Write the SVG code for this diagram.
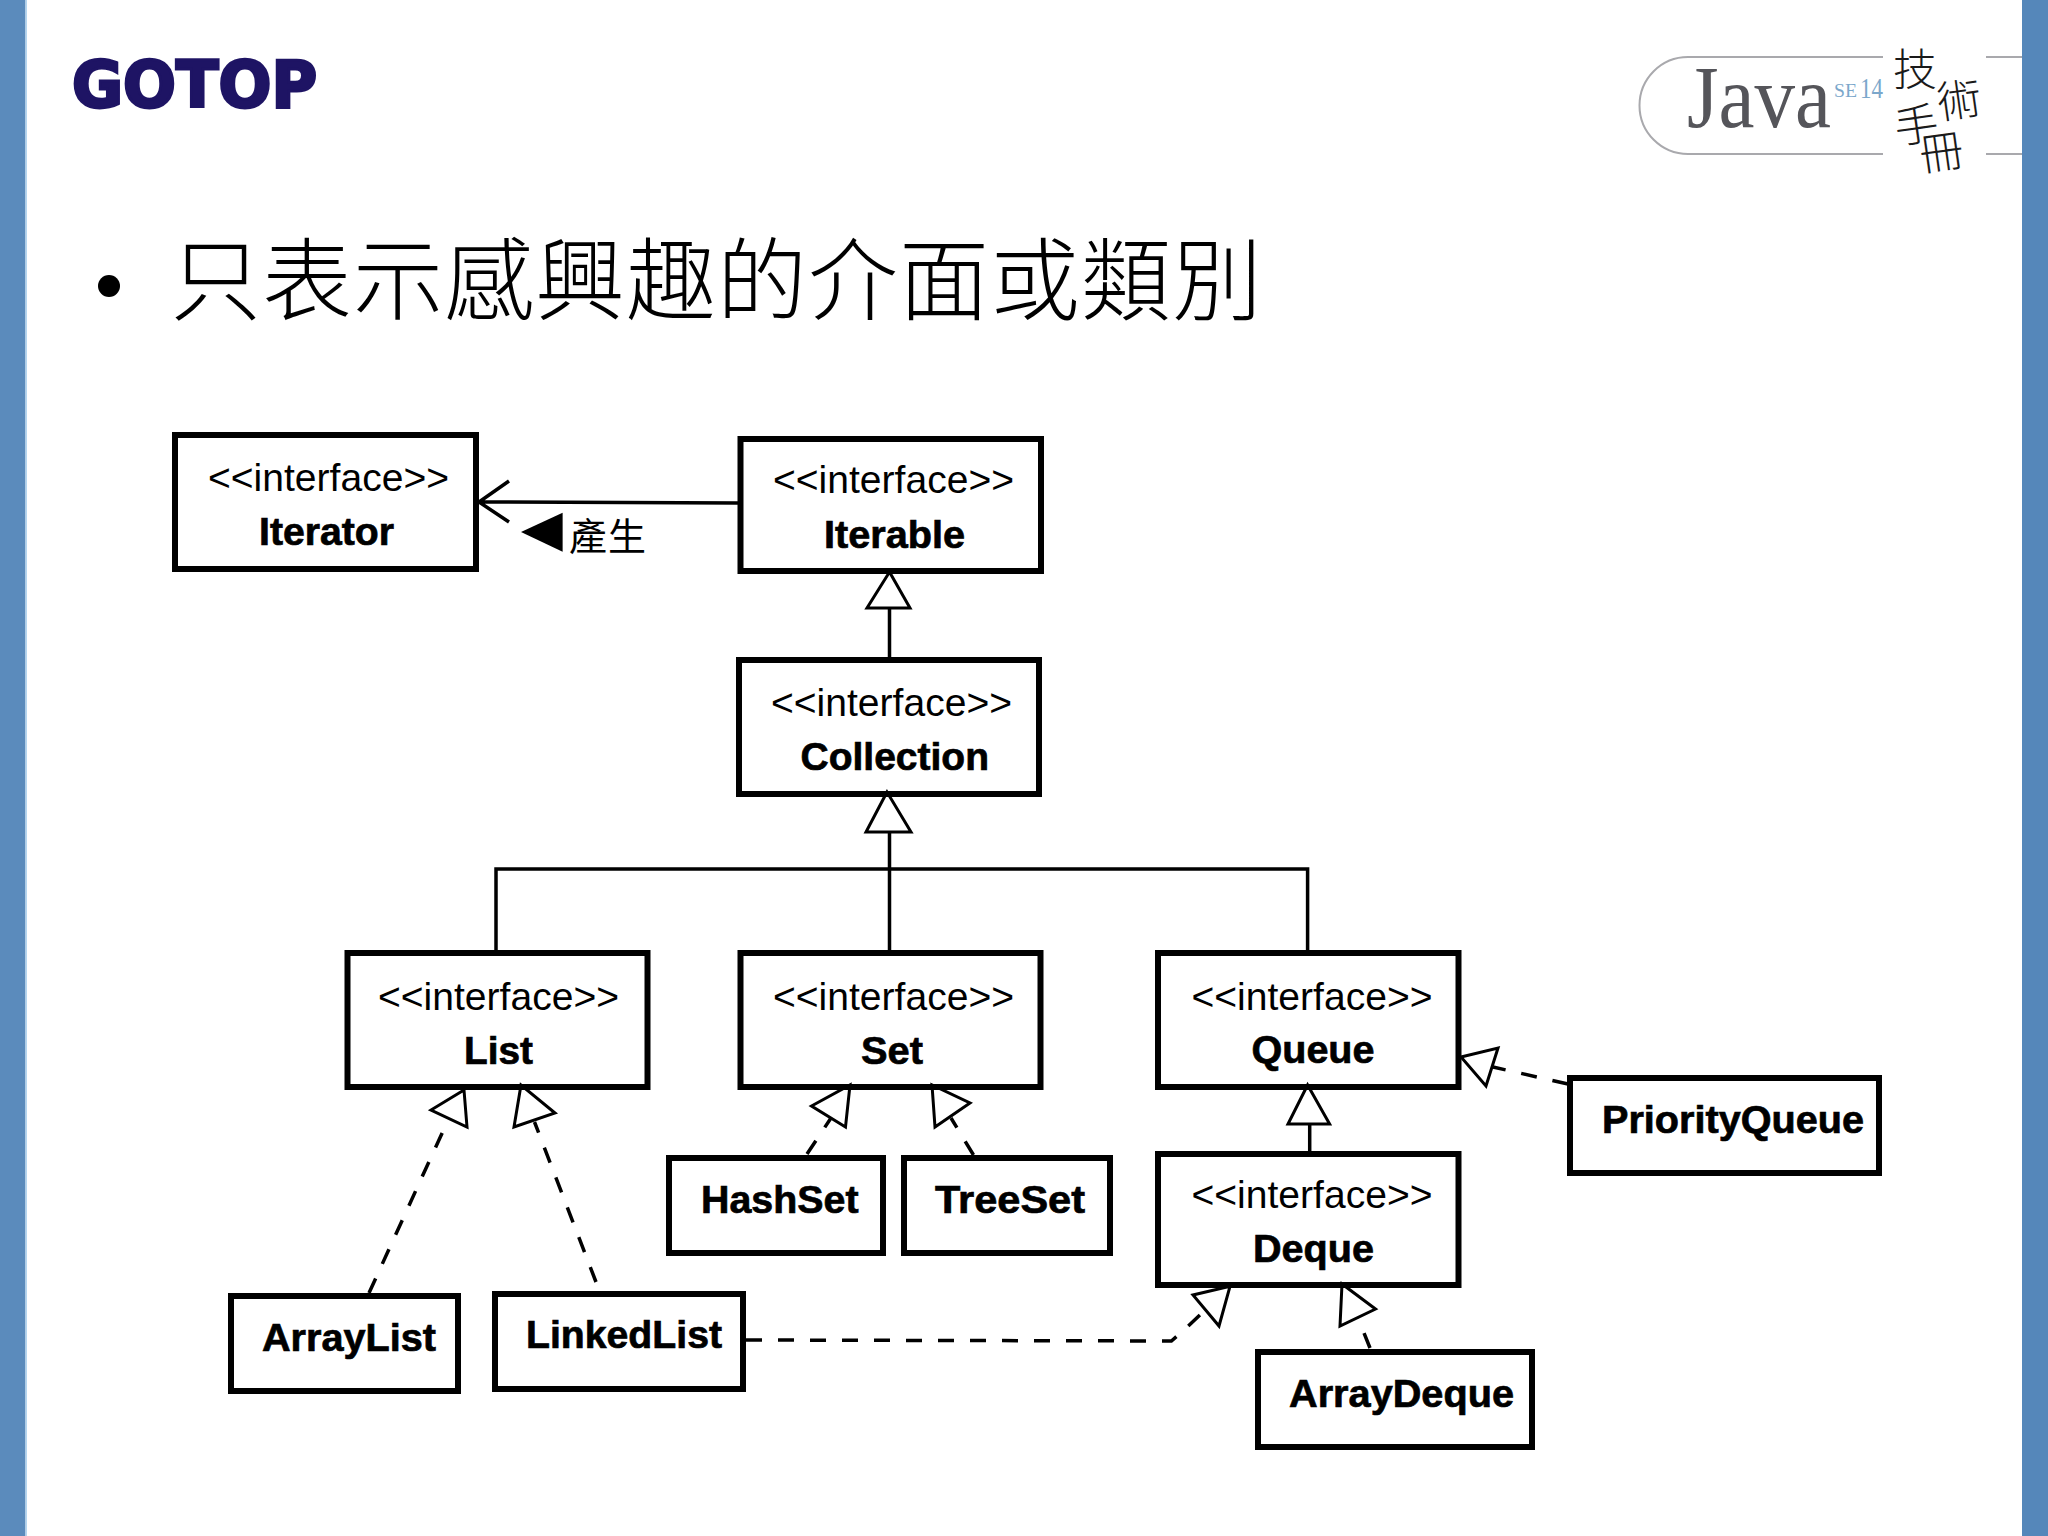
<svg xmlns="http://www.w3.org/2000/svg" width="2048" height="1536" viewBox="0 0 2048 1536">
<style>
.box{fill:none;stroke:#000;stroke-width:6}
.st{font:39px "Liberation Sans",sans-serif;fill:#000}
.nm{font:bold 39px "Liberation Sans",sans-serif;fill:#000;stroke:#000;stroke-width:.7}
.ln{fill:none;stroke:#000;stroke-width:3.5}
.dash{fill:none;stroke:#000;stroke-width:3.5;stroke-dasharray:16 16}
.head{fill:#fff;stroke:#000;stroke-width:3;stroke-linejoin:miter;stroke-miterlimit:2.5}
.cjk{font-family:"Noto Sans CJK TC","Liberation Sans",sans-serif}
</style>
<rect width="2048" height="1536" fill="#fff"/>
<g id="page">
<rect x="0" y="0" width="25.5" height="1536" fill="#5b8bbc"/>
<rect x="25.5" y="0" width="1.5" height="1536" fill="#b5d6f0"/>
<rect x="2022" y="0" width="26" height="1536" fill="#5587ba"/>
<text x="72" y="107" font-family="'DejaVu Sans',sans-serif" font-weight="700" font-size="64" fill="#1e1464" stroke="#1e1464" stroke-width="3" textLength="245" lengthAdjust="spacingAndGlyphs">GOTOP</text>
<path d="M1883 57H1688A48.5 48.5 0 0 0 1688 154H1883M1986 57H2022M1986 154H2022" fill="none" stroke="#a9a9ad" stroke-width="2"/>
<text x="1687" y="127" font-family="'Liberation Serif',serif" font-size="88" fill="#55555a" textLength="144" lengthAdjust="spacingAndGlyphs">Java</text>
<text x="1834" y="97" font-family="'Liberation Serif',serif" font-size="18" fill="#7ba7cb" textLength="23" lengthAdjust="spacingAndGlyphs">SE</text>
<text x="1860" y="98" font-family="'Liberation Serif',serif" font-size="29" fill="#7ba7cb" textLength="23" lengthAdjust="spacingAndGlyphs">14</text>
<g class="cjk" font-weight="300" fill="#1a1a1a" font-size="44">
<text x="1893" y="86">技</text>
<text x="1937" y="116" transform="rotate(-8 1960 98)">術</text>
<text x="1894" y="141" transform="rotate(-8 1917 122)">手</text>
<text x="1919" y="168" transform="rotate(-8 1942 150)">冊</text>
</g>
<ellipse cx="109" cy="286" rx="11" ry="11" fill="#000"/>
<text x="171" y="313" class="cjk" font-size="90" font-weight="300" fill="#000" textLength="1091" lengthAdjust="spacing">只表示感興趣的介面或類別</text>
</g>
<g id="connectors">
<path class="ln" d="M738 503L479 502M509 481L479 502L509 522"/>
<polygon points="521,532 562.6,512.7 562.6,551.7" fill="#000"/>
<path class="ln" d="M889.5 608V657M889.5 832V950M496 950V869H1307.6V950"/>
<polygon class="head" points="889.5,572 867,608 910,608"/>
<polygon class="head" points="887,792 866,832 911,832"/>
<path class="dash" d="M369 1293L449 1118"/>
<polygon class="head" points="464,1090 467,1127 431,1110"/>
<path class="dash" d="M596 1282L534.5 1122"/>
<polygon class="head" points="521,1085 514,1127 555,1113"/>
<path class="dash" d="M807 1154L831 1118"/>
<polygon class="head" points="850,1085 845.5,1127 811.5,1106"/>
<path class="dash" d="M973.5 1155L951 1118"/>
<polygon class="head" points="932,1085 935,1127 970,1103"/>
<path class="dash" d="M1568 1084L1493 1067"/>
<polygon class="head" points="1461,1057 1498,1048 1486,1086"/>
<path class="ln" d="M1309.7 1124V1151"/>
<polygon class="head" points="1307.6,1085 1288,1124 1329.6,1124"/>
<path class="dash" d="M746 1340L1171.4 1341L1183 1331L1204.6 1310.5"/>
<polygon class="head" points="1230,1286.4 1219,1326 1193,1295"/>
<path class="dash" d="M1370 1348L1357.6 1317"/>
<polygon class="head" points="1342,1284 1340,1326 1375.5,1309"/>
</g>
<g id="label-produce">
<text x="569" y="550" class="cjk" font-size="38" fill="#000" textLength="77" lengthAdjust="spacing">產生</text>
</g>
<g id="node-iterator"><rect class="box" x="175" y="435" width="301" height="134"/>
<text class="st" x="208" y="491" textLength="241" lengthAdjust="spacingAndGlyphs">&lt;&lt;interface&gt;&gt;</text>
<text class="nm" x="259" y="545" textLength="135" lengthAdjust="spacingAndGlyphs">Iterator</text></g>
<g id="node-iterable"><rect class="box" x="740.5" y="439" width="300.5" height="132"/>
<text class="st" x="773" y="493" textLength="241" lengthAdjust="spacingAndGlyphs">&lt;&lt;interface&gt;&gt;</text>
<text class="nm" x="824" y="547.5" textLength="141" lengthAdjust="spacingAndGlyphs">Iterable</text></g>
<g id="node-collection"><rect class="box" x="739" y="660" width="300" height="134"/>
<text class="st" x="771" y="715.5" textLength="241" lengthAdjust="spacingAndGlyphs">&lt;&lt;interface&gt;&gt;</text>
<text class="nm" x="800.5" y="770" textLength="188.5" lengthAdjust="spacingAndGlyphs">Collection</text></g>
<g id="node-list"><rect class="box" x="347.5" y="953" width="300" height="134"/>
<text class="st" x="378" y="1010" textLength="241" lengthAdjust="spacingAndGlyphs">&lt;&lt;interface&gt;&gt;</text>
<text class="nm" x="464" y="1064" textLength="69" lengthAdjust="spacingAndGlyphs">List</text></g>
<g id="node-set"><rect class="box" x="740.5" y="953" width="300" height="134"/>
<text class="st" x="773" y="1010" textLength="241" lengthAdjust="spacingAndGlyphs">&lt;&lt;interface&gt;&gt;</text>
<text class="nm" x="861" y="1064" textLength="62" lengthAdjust="spacingAndGlyphs">Set</text></g>
<g id="node-queue"><rect class="box" x="1158" y="953" width="300.5" height="134"/>
<text class="st" x="1191.5" y="1010" textLength="241" lengthAdjust="spacingAndGlyphs">&lt;&lt;interface&gt;&gt;</text>
<text class="nm" x="1251.5" y="1063" textLength="123" lengthAdjust="spacingAndGlyphs">Queue</text></g>
<g id="node-deque"><rect class="box" x="1158" y="1154" width="300.5" height="131"/>
<text class="st" x="1191.5" y="1208" textLength="241" lengthAdjust="spacingAndGlyphs">&lt;&lt;interface&gt;&gt;</text>
<text class="nm" x="1253" y="1262" textLength="121" lengthAdjust="spacingAndGlyphs">Deque</text></g>
<g id="node-hashset"><rect class="box" x="669" y="1158" width="214" height="95"/>
<text class="nm" x="701" y="1212.5" textLength="157.5" lengthAdjust="spacingAndGlyphs">HashSet</text></g>
<g id="node-treeset"><rect class="box" x="904" y="1158" width="206" height="95"/>
<text class="nm" x="935" y="1212.5" textLength="150" lengthAdjust="spacingAndGlyphs">TreeSet</text></g>
<g id="node-arraylist"><rect class="box" x="231" y="1296" width="227" height="95"/>
<text class="nm" x="262" y="1350.5" textLength="174" lengthAdjust="spacingAndGlyphs">ArrayList</text></g>
<g id="node-linkedlist"><rect class="box" x="495" y="1294" width="248" height="95"/>
<text class="nm" x="526" y="1348" textLength="196" lengthAdjust="spacingAndGlyphs">LinkedList</text></g>
<g id="node-priorityqueue"><rect class="box" x="1570" y="1078" width="309" height="95"/>
<text class="nm" x="1602" y="1132.5" textLength="262" lengthAdjust="spacingAndGlyphs">PriorityQueue</text></g>
<g id="node-arraydeque"><rect class="box" x="1258" y="1352" width="274" height="95"/>
<text class="nm" x="1289" y="1407" textLength="225" lengthAdjust="spacingAndGlyphs">ArrayDeque</text></g>
</svg>
